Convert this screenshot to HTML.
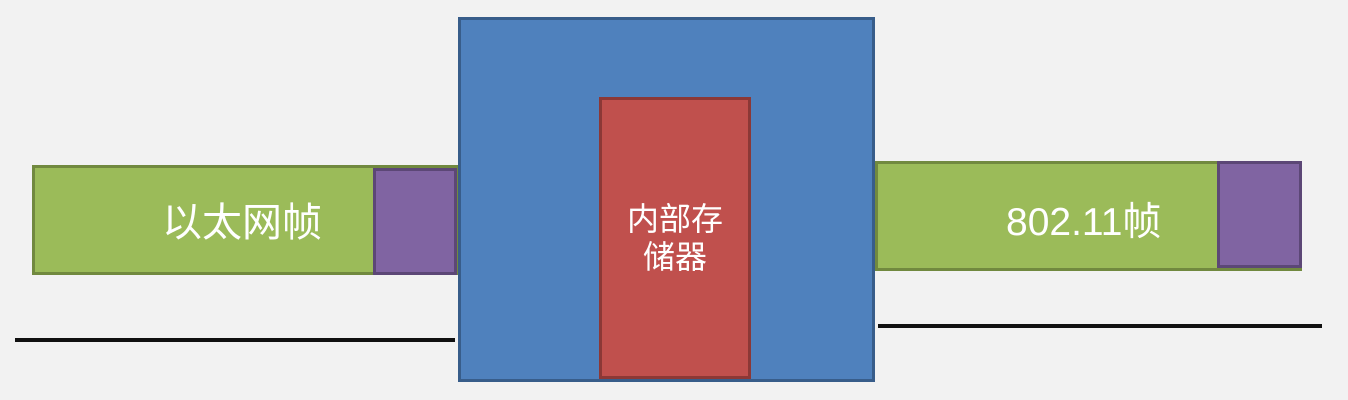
<!DOCTYPE html>
<html><head><meta charset="utf-8"><style>
html,body{margin:0;padding:0;}
body{width:1348px;height:400px;background:#f2f2f2;position:relative;overflow:hidden;font-family:"Liberation Sans","Noto Sans CJK SC",sans-serif;}
.b{position:absolute;box-sizing:border-box;}
.t{position:absolute;color:#fff;white-space:nowrap;}
</style></head><body>
<div class="b" style="left:15px;top:338px;width:440px;height:4px;background:#111;"></div>
<div class="b" style="left:878px;top:324px;width:444px;height:4px;background:#111;"></div>
<div class="b" style="left:32px;top:165px;width:426px;height:110px;background:#9bbb59;border:3px solid #71893f;"></div>
<div class="b" style="left:373px;top:168px;width:84px;height:107px;background:#8064a2;border:3px solid #5c4776;"></div>
<div class="t" style="left:162px;top:190px;font-size:40px;">以太网帧</div>
<div class="b" style="left:458px;top:17px;width:417px;height:365px;background:#4f81bd;border:3px solid #385d8a;"></div>
<div class="b" style="left:599px;top:97px;width:152px;height:282px;background:#c0504d;border:3px solid #8c3836;"></div>
<div class="t" style="left:599px;top:200px;width:152px;text-align:center;font-size:32px;line-height:38px;white-space:normal;">内部存<br>储器</div>
<div class="b" style="left:875px;top:161px;width:427px;height:110px;background:#9bbb59;border:3px solid #71893f;"></div>
<div class="b" style="left:1217px;top:161px;width:85px;height:107px;background:#8064a2;border:3px solid #5c4776;"></div>
<div class="t" style="left:1006px;top:191px;font-size:39px;">802.11帧</div>
</body></html>
